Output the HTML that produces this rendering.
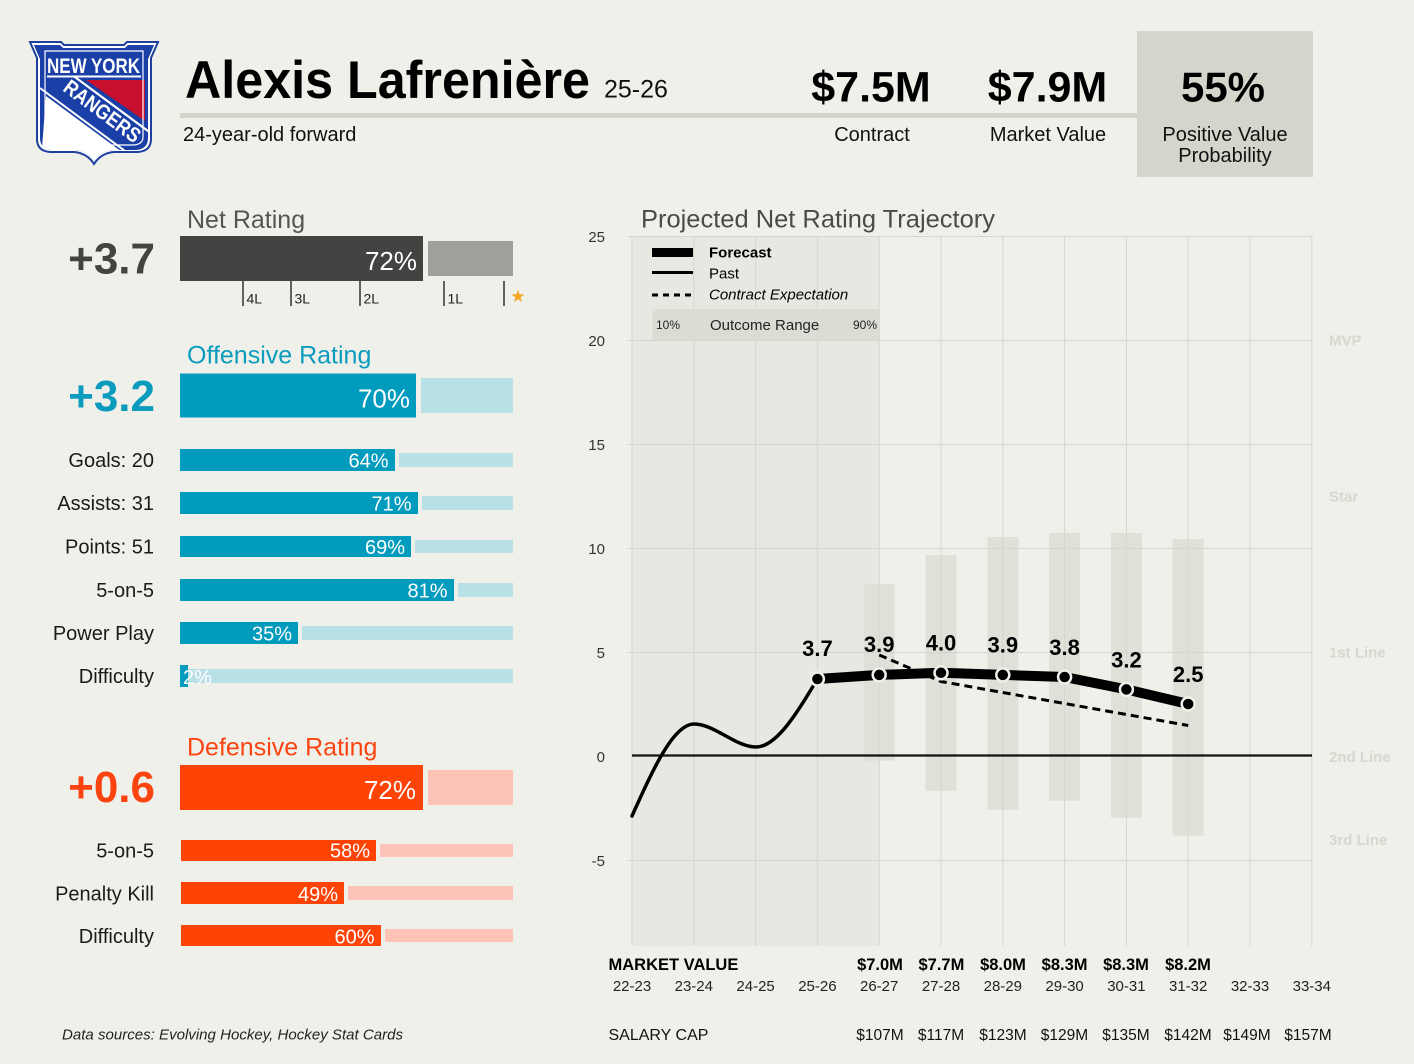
<!DOCTYPE html>
<html>
<head>
<meta charset="utf-8">
<style>
html,body{margin:0;padding:0;background:#f0f0eb;overflow:hidden;}
svg{display:block;}
</style>
</head>
<body>
<svg width="1414" height="1064" viewBox="0 0 1414 1064" xmlns="http://www.w3.org/2000/svg" font-family="'Liberation Sans', Arial, sans-serif">
<rect x="0" y="0" width="1414" height="1064" fill="#f0f0eb"/>

<!-- ===== LOGO ===== -->
<defs>
  <clipPath id="inner">
    <path d="M34,45 L60,45 L63,48 L125,48 L128,45 L154,45 L148,59 L148,138 Q148,149 136,150 L113,150 Q100,151 94,161 Q88,151 75,150 L52,150 Q40,149 40,138 L40,59 Z"/>
  </clipPath>
</defs>
<path d="M30,42 L61,42 L64,45 L124,45 L127,42 L158,42 L151,58 L151,139 Q151,151 138,152 L114,152 Q101,153 94,164 Q87,153 74,152 L50,152 Q37,151 37,139 L37,58 Z" fill="#ffffff" stroke="#1d3f9e" stroke-width="2"/>
<path d="M34,45 L60,45 L63,48 L125,48 L128,45 L154,45 L148,59 L148,138 Q148,149 136,150 L113,150 Q100,151 94,161 Q88,151 75,150 L52,150 Q40,149 40,138 L40,59 Z" fill="#1a3fa6"/>
<g clip-path="url(#inner)">
  <polygon points="86,80 145,80 145,121" fill="#c8102e"/>
  <polygon points="46,96 152,174 40,174" fill="#ffffff"/>
  <line x1="40" y1="88" x2="152" y2="171" stroke="#ffffff" stroke-width="2"/>
  <line x1="60" y1="66" x2="152" y2="134" stroke="#ffffff" stroke-width="2.2"/>
  <text x="0" y="0" transform="translate(98,117) rotate(36.6)" text-anchor="middle" font-size="21" font-weight="bold" fill="#ffffff" textLength="90" lengthAdjust="spacingAndGlyphs">RANGERS</text>
  <rect x="30" y="40" width="130" height="37" fill="#1a3fa6"/>
</g>
<path d="M45,51 L143,51 L143,137 Q143,144 134,145 L112,145 Q100,146 94,154 Q88,146 76,145 L54,145 Q45,144 45,137 Z" fill="none" stroke="#ffffff" stroke-width="1.2"/>
<text x="47" y="73" font-size="21" font-weight="bold" fill="#ffffff" textLength="93" lengthAdjust="spacingAndGlyphs">NEW YORK</text>
<line x1="47" y1="76.5" x2="141" y2="76.5" stroke="#ffffff" stroke-width="2"/>

<!-- ===== HEADER ===== -->
<text x="185" y="98" font-size="53" font-weight="bold" fill="#000" textLength="405" lengthAdjust="spacingAndGlyphs">Alexis Lafrenière</text>
<text x="604" y="97.5" font-size="25" fill="#111">25-26</text>
<rect x="180" y="113" width="957" height="5" fill="#d5d5cc"/>
<text x="183" y="141" font-size="20" fill="#111">24-year-old forward</text>

<text x="871" y="101.5" font-size="43" font-weight="bold" fill="#000" text-anchor="middle">$7.5M</text>
<text x="1047.5" y="101.5" font-size="43" font-weight="bold" fill="#000" text-anchor="middle">$7.9M</text>
<rect x="1137" y="31" width="176" height="146" fill="#d5d5cc"/>
<text x="1223" y="101.5" font-size="42" font-weight="bold" fill="#000" text-anchor="middle">55%</text>
<text x="872" y="141" font-size="20" fill="#111" text-anchor="middle">Contract</text>
<text x="1048" y="141" font-size="20" fill="#111" text-anchor="middle">Market Value</text>
<text x="1225" y="141" font-size="20" fill="#111" text-anchor="middle">Positive Value</text>
<text x="1225" y="162" font-size="20" fill="#111" text-anchor="middle">Probability</text>

<!-- ===== NET RATING ===== -->
<text x="187" y="228" font-size="25" fill="#555">Net Rating</text>
<text x="155" y="273.5" font-size="44" font-weight="bold" fill="#454341" text-anchor="end">+3.7</text>
<rect x="180" y="236" width="243" height="45" fill="#454341"/>
<text x="417" y="270" font-size="26" fill="#ffffff" text-anchor="end">72%</text>
<rect x="428" y="241" width="85" height="35" fill="#a09f9c"/>
<g stroke="#333" stroke-width="1.5">
  <line x1="243" y1="281" x2="243" y2="306"/>
  <line x1="291" y1="281" x2="291" y2="306"/>
  <line x1="360" y1="281" x2="360" y2="306"/>
  <line x1="444" y1="281" x2="444" y2="306"/>
  <line x1="504" y1="281" x2="504" y2="306"/>
</g>
<g font-size="14" fill="#222">
  <text x="246.5" y="303.5">4L</text>
  <text x="294.5" y="303.5">3L</text>
  <text x="363.5" y="303.5">2L</text>
  <text x="447.5" y="303.5">1L</text>
</g>
<text x="518" y="302" font-size="17" fill="#f5a623" text-anchor="middle">★</text>

<!-- ===== OFFENSIVE ===== -->
<text x="187" y="363.5" font-size="25" fill="#0a9bbd">Offensive Rating</text>
<text x="155" y="411" font-size="44" font-weight="bold" fill="#0a9bbd" text-anchor="end">+3.2</text>
<rect x="180" y="373.5" width="236" height="44" fill="#009bbd"/>
<rect x="421" y="378" width="92" height="35" fill="#b9dfe7"/>
<text x="410" y="407.5" font-size="26" fill="#ffffff" text-anchor="end">70%</text>

<g font-size="20" fill="#1a1a1a" text-anchor="end">
  <text x="154" y="467">Goals: 20</text>
  <text x="154" y="510">Assists: 31</text>
  <text x="154" y="553.5">Points: 51</text>
  <text x="154" y="597">5-on-5</text>
  <text x="154" y="640">Power Play</text>
  <text x="154" y="683">Difficulty</text>
</g>
<g fill="#009bbd">
  <rect x="180" y="449" width="215" height="22"/>
  <rect x="180" y="492" width="238" height="22"/>
  <rect x="180" y="536" width="231" height="21"/>
  <rect x="180" y="579" width="274" height="22"/>
  <rect x="180" y="622" width="118" height="22"/>
  <rect x="180" y="665" width="8" height="22"/>
</g>
<g fill="#b9dfe7">
  <rect x="399" y="453" width="114" height="14"/>
  <rect x="422" y="496" width="91" height="14"/>
  <rect x="415" y="540" width="98" height="13"/>
  <rect x="458" y="583" width="55" height="14"/>
  <rect x="302" y="626" width="211" height="14"/>
  <rect x="188" y="669" width="325" height="14"/>
</g>
<g font-size="20" fill="#ffffff" text-anchor="end">
  <text x="388.5" y="467.5">64%</text>
  <text x="411.5" y="510.5">71%</text>
  <text x="405" y="554">69%</text>
  <text x="447.5" y="597.5">81%</text>
  <text x="292" y="640.5">35%</text>
</g>
<text x="183" y="684" font-size="20" fill="#ffffff">2%</text>

<!-- ===== DEFENSIVE ===== -->
<text x="187" y="755.5" font-size="25" fill="#fc4410">Defensive Rating</text>
<text x="155" y="802" font-size="44" font-weight="bold" fill="#fc4410" text-anchor="end">+0.6</text>
<rect x="180" y="765" width="243" height="45" fill="#fe4306"/>
<rect x="428" y="770" width="85" height="35" fill="#fdc3b6"/>
<text x="416" y="799" font-size="26" fill="#ffffff" text-anchor="end">72%</text>

<g font-size="20" fill="#1a1a1a" text-anchor="end">
  <text x="154" y="857.5">5-on-5</text>
  <text x="154" y="900.5">Penalty Kill</text>
  <text x="154" y="943">Difficulty</text>
</g>
<g fill="#fe4306">
  <rect x="181" y="840" width="195" height="21"/>
  <rect x="181" y="882" width="163" height="22"/>
  <rect x="181" y="925" width="200" height="21"/>
</g>
<g fill="#fdc3b6">
  <rect x="380" y="844" width="133" height="13"/>
  <rect x="348" y="886" width="165" height="14"/>
  <rect x="385" y="929" width="128" height="13"/>
</g>
<g font-size="20" fill="#ffffff" text-anchor="end">
  <text x="370" y="857.5">58%</text>
  <text x="338" y="901">49%</text>
  <text x="374.5" y="943.5">60%</text>
</g>

<text x="62" y="1039.5" font-size="15" font-style="italic" fill="#222" textLength="341" lengthAdjust="spacingAndGlyphs">Data sources: Evolving Hockey, Hockey Stat Cards</text>

<!-- ===== CHART ===== -->
<text x="641" y="227.5" font-size="25" fill="#4a4a4a" textLength="354" lengthAdjust="spacingAndGlyphs">Projected Net Rating Trajectory</text>

<rect x="632" y="236" width="247.2" height="710" fill="#e8e8e3"/>

<!-- outcome range bars -->
<g fill="#e0e0d9">
  <rect x="863.7" y="584" width="31" height="176.7"/>
  <rect x="925.5" y="555" width="31" height="235.7"/>
  <rect x="987.3" y="537" width="31" height="272.7"/>
  <rect x="1049.1" y="533" width="31" height="267.7"/>
  <rect x="1110.9" y="533" width="31" height="284.7"/>
  <rect x="1172.7" y="539" width="31" height="296.7"/>
</g>

<!-- gridlines -->
<g stroke="#d6d6ce" stroke-width="1">
  <line x1="632" y1="236" x2="632" y2="946"/>
  <line x1="693.8" y1="236" x2="693.8" y2="946"/>
  <line x1="755.6" y1="236" x2="755.6" y2="946"/>
  <line x1="817.4" y1="236" x2="817.4" y2="946"/>
  <line x1="879.2" y1="236" x2="879.2" y2="946"/>
  <line x1="941" y1="236" x2="941" y2="946"/>
  <line x1="1002.8" y1="236" x2="1002.8" y2="946"/>
  <line x1="1064.6" y1="236" x2="1064.6" y2="946"/>
  <line x1="1126.4" y1="236" x2="1126.4" y2="946"/>
  <line x1="1188.2" y1="236" x2="1188.2" y2="946"/>
  <line x1="1250" y1="236" x2="1250" y2="946"/>
  <line x1="1311.8" y1="236" x2="1311.8" y2="946"/>
  <line x1="628" y1="236.5" x2="1312" y2="236.5"/>
  <line x1="628" y1="340.5" x2="1312" y2="340.5"/>
  <line x1="628" y1="444.5" x2="1312" y2="444.5"/>
  <line x1="628" y1="548.5" x2="1312" y2="548.5"/>
  <line x1="628" y1="652.5" x2="1312" y2="652.5"/>
  <line x1="628" y1="860.5" x2="1312" y2="860.5"/>
</g>
<line x1="632" y1="755.5" x2="1312" y2="755.5" stroke="#111" stroke-width="2.2"/>

<!-- y labels -->
<g font-size="15" fill="#333" text-anchor="end">
  <text x="605" y="242">25</text>
  <text x="605" y="346">20</text>
  <text x="605" y="450">15</text>
  <text x="605" y="554">10</text>
  <text x="605" y="658">5</text>
  <text x="605" y="762">0</text>
  <text x="605" y="866">-5</text>
</g>

<!-- right tier labels -->
<g font-size="15" font-weight="bold" fill="#d7d7cf">
  <text x="1329" y="345.5">MVP</text>
  <text x="1329" y="501.5">Star</text>
  <text x="1329" y="657.5">1st Line</text>
  <text x="1329" y="762">2nd Line</text>
  <text x="1329" y="845">3rd Line</text>
</g>

<!-- legend -->
<rect x="652.5" y="309" width="227.5" height="31" fill="#dcdcd5"/>
<rect x="652" y="248" width="41" height="9" fill="#000"/>
<line x1="652" y1="272.5" x2="693" y2="272.5" stroke="#000" stroke-width="3"/>
<line x1="652" y1="295" x2="693" y2="295" stroke="#000" stroke-width="3" stroke-dasharray="6,5"/>
<text x="709" y="257.5" font-size="15" font-weight="bold" fill="#000">Forecast</text>
<text x="709" y="278.5" font-size="15" fill="#000">Past</text>
<text x="709" y="299.5" font-size="15" font-style="italic" fill="#000">Contract Expectation</text>
<text x="656" y="329" font-size="12" fill="#222">10%</text>
<text x="710" y="330" font-size="15" fill="#222">Outcome Range</text>
<text x="877" y="329" font-size="12" fill="#222" text-anchor="end">90%</text>

<!-- past line -->
<path d="M632,816 C652.7,770 673.3,724 694,724 C714.7,724 735.3,747 756,747 C776.7,747 797.3,712.5 817.4,679" fill="none" stroke="#000" stroke-width="3.5" stroke-linecap="round"/>

<!-- contract expectation -->
<path d="M879.2,655 L941,681.5 L1188.2,725.5" fill="none" stroke="#000" stroke-width="3" stroke-dasharray="8,5"/>

<!-- forecast -->
<polyline points="817.4,679 879.2,674.9 941,672.8 1002.8,674.9 1064.6,677 1126.4,689.4 1188.2,704" fill="none" stroke="#000" stroke-width="10" stroke-linejoin="round"/>
<g fill="#000" stroke="#f0f0eb" stroke-width="2.5">
  <circle cx="817.4" cy="679" r="6.5"/>
  <circle cx="879.2" cy="674.9" r="6.5"/>
  <circle cx="941" cy="672.8" r="6.5"/>
  <circle cx="1002.8" cy="674.9" r="6.5"/>
  <circle cx="1064.6" cy="677" r="6.5"/>
  <circle cx="1126.4" cy="689.4" r="6.5"/>
  <circle cx="1188.2" cy="704" r="6.5"/>
</g>
<g font-size="22" font-weight="bold" fill="#000" text-anchor="middle">
  <text x="817.4" y="656">3.7</text>
  <text x="879.2" y="652">3.9</text>
  <text x="941" y="650.5">4.0</text>
  <text x="1002.8" y="652.5">3.9</text>
  <text x="1064.6" y="655">3.8</text>
  <text x="1126.4" y="667.5">3.2</text>
  <text x="1188.2" y="682">2.5</text>
</g>

<!-- bottom axis -->
<text x="608.5" y="970" font-size="16.5" font-weight="bold" fill="#000">MARKET VALUE</text>
<g font-size="16.5" font-weight="bold" fill="#000" text-anchor="middle">
  <text x="880" y="970">$7.0M</text>
  <text x="941.4" y="970">$7.7M</text>
  <text x="1003" y="970">$8.0M</text>
  <text x="1064.6" y="970">$8.3M</text>
  <text x="1126" y="970">$8.3M</text>
  <text x="1188" y="970">$8.2M</text>
</g>
<g font-size="15" fill="#222" text-anchor="middle">
  <text x="632" y="991">22-23</text>
  <text x="693.8" y="991">23-24</text>
  <text x="755.6" y="991">24-25</text>
  <text x="817.4" y="991">25-26</text>
  <text x="879.2" y="991">26-27</text>
  <text x="941" y="991">27-28</text>
  <text x="1002.8" y="991">28-29</text>
  <text x="1064.6" y="991">29-30</text>
  <text x="1126.4" y="991">30-31</text>
  <text x="1188.2" y="991">31-32</text>
  <text x="1250" y="991">32-33</text>
  <text x="1311.8" y="991">33-34</text>
</g>
<text x="608.5" y="1040" font-size="16" fill="#111">SALARY CAP</text>
<g font-size="15.5" fill="#111" text-anchor="middle">
  <text x="880" y="1040">$107M</text>
  <text x="941" y="1040">$117M</text>
  <text x="1003" y="1040">$123M</text>
  <text x="1064.5" y="1040">$129M</text>
  <text x="1126" y="1040">$135M</text>
  <text x="1188" y="1040">$142M</text>
  <text x="1247" y="1040">$149M</text>
  <text x="1308" y="1040">$157M</text>
</g>
</svg>
</body>
</html>
